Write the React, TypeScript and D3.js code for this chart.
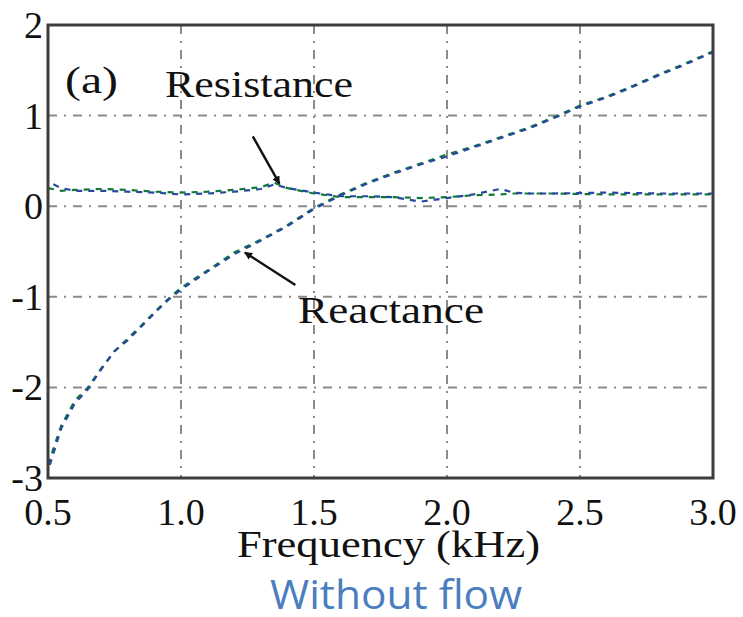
import React from "react";
import * as d3 from "d3";

const xTicks = [0.5, 1.0, 1.5, 2.0, 2.5, 3.0];
const yTicks = [2, 1, 0, -1, -2, -3];

const reactFreq = [0.5, 0.55, 0.6, 0.65, 0.7, 0.75, 0.8, 0.85, 0.9, 0.95, 1.0, 1.1, 1.2, 1.3, 1.4, 1.5, 1.6, 1.7, 1.8, 1.9, 2.0, 2.1, 2.2, 2.3, 2.4, 2.5, 2.6, 2.7, 2.8, 2.9, 3.0];
const reactBlue = [-2.92, -2.45, -2.18, -2.02, -1.8, -1.6, -1.48, -1.33, -1.18, -1.04, -0.92, -0.72, -0.53, -0.38, -0.22, -0.03, 0.12, 0.25, 0.36, 0.46, 0.55, 0.65, 0.75, 0.85, 0.97, 1.1, 1.2, 1.32, 1.45, 1.57, 1.7];
const reactGreen = [-2.85, -2.42, -2.15, -2.0, -1.79, -1.6, -1.46, -1.32, -1.17, -1.03, -0.9, -0.71, -0.51, -0.37, -0.21, -0.02, 0.13, 0.26, 0.37, 0.47, 0.57, 0.66, 0.76, 0.86, 0.98, 1.11, 1.21, 1.33, 1.46, 1.58, 1.71];

const resFreq = [0.5, 0.55, 0.6, 0.7, 0.8, 0.9, 1.0, 1.1, 1.2, 1.3, 1.35, 1.4, 1.5, 1.6, 1.7, 1.8, 1.9, 2.0, 2.1, 2.2, 2.25, 2.3, 2.4, 2.6, 2.8, 3.0];
const resBlue = [0.27, 0.2, 0.17, 0.17, 0.16, 0.15, 0.13, 0.14, 0.16, 0.19, 0.24, 0.2, 0.15, 0.11, 0.11, 0.1, 0.05, 0.09, 0.13, 0.19, 0.15, 0.14, 0.14, 0.15, 0.14, 0.14];
const resGreen = [0.2, 0.17, 0.18, 0.19, 0.18, 0.16, 0.15, 0.16, 0.18, 0.21, 0.26, 0.2, 0.14, 0.1, 0.1, 0.1, 0.09, 0.1, 0.12, 0.13, 0.14, 0.14, 0.14, 0.13, 0.13, 0.13];

const W = 743;
const H = 617;
const M = { left: 48, right: 713, top: 25, bottom: 478 };

export default function App() {
  const x = d3.scaleLinear().domain([0.5, 3.0]).range([M.left, M.right]);
  const y = d3.scaleLinear().domain([-3, 2]).range([M.bottom, M.top]);
  const line = d3
    .line<[number, number]>()
    .x((d) => x(d[0]))
    .y((d) => y(d[1]));

  const series = [
    { f: reactFreq, v: reactGreen, color: "#0f7a38", dash: "6,6", off: 0 },
    { f: reactFreq, v: reactBlue, color: "#27489e", dash: "6,6", off: 6 },
    { f: resFreq, v: resGreen, color: "#0f7a38", dash: "6,6", off: 0 },
    { f: resFreq, v: resBlue, color: "#27489e", dash: "6,6", off: 6 },
  ];

  const serif = "'Liberation Serif', 'DejaVu Serif', serif";

  const arrows = [
    { from: [1.27, 0.77], to: [1.37, 0.25] },
    { from: [1.43, -0.87], to: [1.24, -0.51] },
  ];

  return (
    <svg width={W} height={H} style={{ position: "absolute", left: 0, top: 0, background: "#fff" }}>
      <defs>
        <marker id="ah" viewBox="0 0 10 10" refX="9" refY="5" markerWidth="8" markerHeight="8" orient="auto" markerUnits="userSpaceOnUse">
          <path d="M0,0 L10,5 L0,10 z" fill="#111" />
        </marker>
      </defs>
      <rect x={0} y={0} width={W} height={H} fill="#fff" />
      {/* grid */}
      {xTicks.slice(1, -1).map((t) => (
        <line key={"gx" + t} x1={x(t)} x2={x(t)} y1={M.top} y2={M.bottom} stroke="#8a8a8a" strokeWidth={2} strokeDasharray="9,7,2,7" />
      ))}
      {yTicks.slice(1, -1).map((t) => (
        <line key={"gy" + t} x1={M.left} x2={M.right} y1={y(t)} y2={y(t)} stroke="#8a8a8a" strokeWidth={2} strokeDasharray="9,7,2,7" />
      ))}
      {/* curves */}
      {series.map((s, i) => (
        <path
          key={i}
          d={line(s.f.map((f, j) => [f, s.v[j]] as [number, number])) || ""}
          fill="none"
          stroke={s.color}
          strokeWidth={2.2}
          strokeDasharray={s.dash}
          strokeDashoffset={s.off}
        />
      ))}
      {/* frame */}
      <rect x={M.left} y={M.top} width={M.right - M.left} height={M.bottom - M.top} fill="none" stroke="#3d3d3d" strokeWidth={3} />
      {/* arrows */}
      {arrows.map((a, i) => (
        <line
          key={"a" + i}
          x1={x(a.from[0])}
          y1={y(a.from[1])}
          x2={x(a.to[0])}
          y2={y(a.to[1])}
          stroke="#111"
          strokeWidth={2.4}
          markerEnd="url(#ah)"
        />
      ))}
      {/* y tick labels */}
      {yTicks.map((t) => (
        <text key={"yt" + t} x={43} y={y(t) + 13} textAnchor="end" fontFamily={serif} fontSize={38} fill="#111">
          {t < 0 ? "-" + Math.abs(t) : String(t)}
        </text>
      ))}
      {/* x tick labels */}
      {xTicks.map((t) => (
        <text key={"xt" + t} x={x(t)} y={525} textAnchor="middle" fontFamily={serif} fontSize={38} fill="#111">
          {t.toFixed(1)}
        </text>
      ))}
      <text x={237} y={557} fontFamily={serif} fontSize={38} textLength={303} lengthAdjust="spacingAndGlyphs" fill="#111">
        Frequency (kHz)
      </text>
      <text x={165} y={97} fontFamily={serif} fontSize={38} textLength={188} lengthAdjust="spacingAndGlyphs" fill="#111">
        Resistance
      </text>
      <text x={298} y={323} fontFamily={serif} fontSize={38} textLength={186} lengthAdjust="spacingAndGlyphs" fill="#111">
        Reactance
      </text>
      <text x={65} y={93} fontFamily={serif} fontSize={38} textLength={53} lengthAdjust="spacingAndGlyphs" fill="#111">
        (a)
      </text>
      <text x={270} y={609} fontFamily="'Open Sans', 'Noto Sans', sans-serif" fontSize={40} textLength={252} lengthAdjust="spacingAndGlyphs" fill="#4a7ebf">
        Without flow
      </text>
    </svg>
  );
}
